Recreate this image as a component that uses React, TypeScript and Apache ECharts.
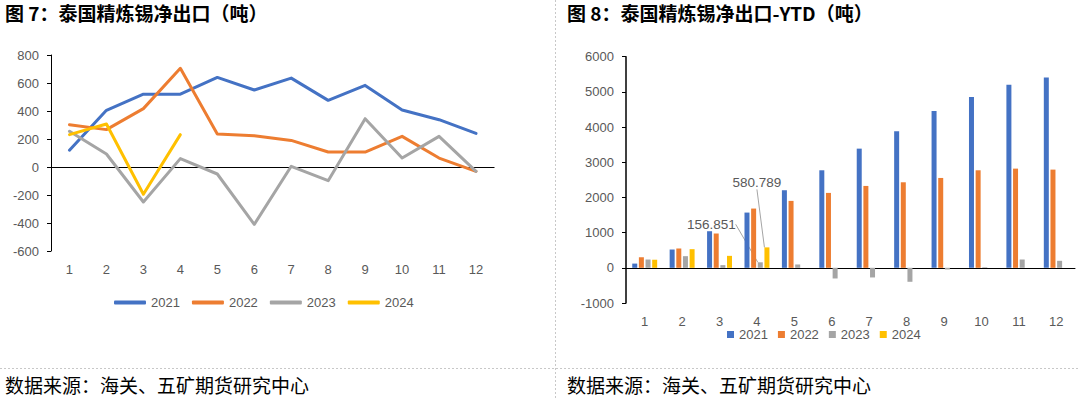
import React, { useEffect, useRef } from 'react';
import * as echarts from 'echarts';

const months = ['1', '2', '3', '4', '5', '6', '7', '8', '9', '10', '11', '12'];
const years = ['2021', '2022', '2023', '2024'];
const colors = ['#4472C4', '#ED7D31', '#A5A5A5', '#FFC000'];

// Monthly net export (tonnes)
const net2021 = [120, 405, 520, 520, 640, 550, 635, 476, 583, 407, 338, 240];
const net2022 = [302, 267, 417, 705, 236, 224, 190, 107, 107, 219, 64, -31];
const net2023 = [255, 93, -250, 60, -50, -410, 5, -98, 345, 64, 219, -31];
const net2024 = [231, 307, -195, 231];

// YTD net export (tonnes)
const ytd2021 = [120, 520, 1040, 1570, 2205, 2772, 3387, 3880, 4456, 4853, 5203, 5411];
const ytd2022 = [300, 549, 975, 1684, 1902, 2129, 2327, 2431, 2554, 2772, 2819, 2791];
const ytd2023 = [236, 331, 76, 156.851, 95, -303, -274, -397, -47, 17, 236, 199];
const ytd2024 = [230, 530, 340, 580.789];

const labeledIndex2023 = 3;
const labeledIndex2024 = 3;

const title1 = '图 7：泰国精炼锡净出口（吨）';
const title2 = '图 8：泰国精炼锡净出口-YTD（吨）';
const sourceText = '数据来源：海关、五矿期货研究中心';

const cjk = '"Noto Sans CJK SC", sans-serif';
const numFont = '"Liberation Sans", Arial, sans-serif';
const tickColor = '#595959';

const netSeries = [net2021, net2022, net2023, net2024];
const ytdSeries = [ytd2021, ytd2022, ytd2023, ytd2024];

function labeled(values: number[], idx: number) {
  return values.map((v, i) =>
    i === idx
      ? { value: v, label: { show: true, position: 'top', color: tickColor, fontSize: 13.5, fontFamily: numFont } }
      : v
  );
}

const plain = (v: number) => String(v);

export default function App() {
  const ref = useRef<HTMLDivElement>(null);
  useEffect(() => {
    document.body.style.margin = '0';
    const chart = echarts.init(ref.current!, null, { renderer: 'svg' });

    const lineSeries = years.map((y, i) => ({
      name: y,
      type: 'line',
      xAxisIndex: 0,
      yAxisIndex: 0,
      data: netSeries[i],
      showSymbol: false,
      symbol: 'none',
      color: colors[i],
      lineStyle: { width: 3, color: colors[i], cap: 'round', join: 'round' },
      z: 3,
      ...(i === 0
        ? {
            markLine: {
              silent: true,
              symbol: 'none',
              label: { show: false },
              lineStyle: { color: '#000', width: 1, type: 'solid' },
              data: [{ yAxis: 0 }],
              z: 1,
            },
          }
        : {}),
    }));

    const barSeries = years.map((y, i) => {
      const base: any = {
        name: y,
        type: 'bar',
        xAxisIndex: 1,
        yAxisIndex: 1,
        barWidth: 5,
        barGap: '33%',
        color: colors[i],
        data: ytdSeries[i],
      };
      if (i === 2) {
        base.data = labeled(ytdSeries[i], labeledIndex2023);
        base.labelLayout = { dx: -49, dy: -26 };
        base.labelLine = { show: true, lineStyle: { color: '#A5A5A5', width: 1 } };
      }
      if (i === 3) {
        base.data = labeled(ytdSeries[i], labeledIndex2024);
        base.labelLayout = { dx: -10, dy: -53 };
        base.labelLine = { show: true, lineStyle: { color: '#A5A5A5', width: 1 } };
      }
      return base;
    });

    const titleStyle = { fontSize: 19, fontWeight: 'bold', fontFamily: cjk, color: '#000' };
    const srcStyle = { fontSize: 19, fontWeight: 'normal', fontFamily: cjk, color: '#000' };

    const option: any = {
      animation: false,
      backgroundColor: '#fff',
      title: [
        { text: title1, left: 5, top: 3, padding: 0, textStyle: titleStyle },
        { text: title2, left: 567, top: 3, padding: 0, textStyle: titleStyle },
        { text: sourceText, left: 5, top: 375, padding: 0, textStyle: srcStyle },
        { text: sourceText, left: 567, top: 375, padding: 0, textStyle: srcStyle },
      ],
      legend: [
        {
          data: years,
          left: 114,
          top: 296,
          padding: 0,
          icon: 'roundRect',
          itemWidth: 32,
          itemHeight: 4,
          itemGap: 12,
          textStyle: { fontSize: 13, color: tickColor, fontFamily: numFont },
        },
        {
          data: years,
          left: 727,
          top: 328,
          padding: 0,
          icon: 'rect',
          itemWidth: 7,
          itemHeight: 7,
          itemGap: 10,
          textStyle: { fontSize: 13, color: tickColor, fontFamily: numFont },
        },
      ],
      grid: [
        { left: 51, top: 55, width: 443.5, height: 196 },
        { left: 626, top: 56.7, width: 449, height: 246.3 },
      ],
      xAxis: [
        {
          gridIndex: 0,
          type: 'category',
          data: months,
          axisLine: { show: false },
          axisTick: { show: false },
          axisLabel: { margin: 12, color: tickColor, fontSize: 13, fontFamily: numFont },
        },
        {
          gridIndex: 1,
          type: 'category',
          data: months,
          axisLine: { show: true, onZero: true, lineStyle: { color: '#000', width: 1 } },
          axisTick: { show: false },
          axisLabel: { margin: 12, color: tickColor, fontSize: 13, fontFamily: numFont },
        },
      ],
      yAxis: [
        {
          gridIndex: 0,
          type: 'value',
          min: -600,
          max: 800,
          interval: 200,
          axisLine: { show: true, lineStyle: { color: '#000', width: 1 } },
          axisTick: { show: true, length: 4, lineStyle: { color: '#000' } },
          splitLine: { show: false },
          axisLabel: { margin: 12, color: tickColor, fontSize: 13, fontFamily: numFont, formatter: plain },
        },
        {
          gridIndex: 1,
          type: 'value',
          min: -1000,
          max: 6000,
          interval: 1000,
          axisLine: { show: true, lineStyle: { color: '#000', width: 1.5 } },
          axisTick: { show: true, length: 4, lineStyle: { color: '#000' } },
          splitLine: { show: false },
          axisLabel: { margin: 12, color: tickColor, fontSize: 13, fontFamily: numFont, formatter: plain },
        },
      ],
      graphic: [
        {
          type: 'line',
          shape: { x1: 555.5, y1: 0, x2: 555.5, y2: 398 },
          style: { stroke: '#c8c8c8', lineWidth: 1, lineDash: [2, 2] },
          silent: true,
        },
        {
          type: 'line',
          shape: { x1: 0, y1: 368.5, x2: 1080, y2: 368.5 },
          style: { stroke: '#c8c8c8', lineWidth: 1, lineDash: [2, 2] },
          silent: true,
        },
      ],
      series: [...lineSeries, ...barSeries],
    };

    chart.setOption(option);
    return () => chart.dispose();
  }, []);
  return <div ref={ref} style={{ width: 1080, height: 398 }} />;
}
